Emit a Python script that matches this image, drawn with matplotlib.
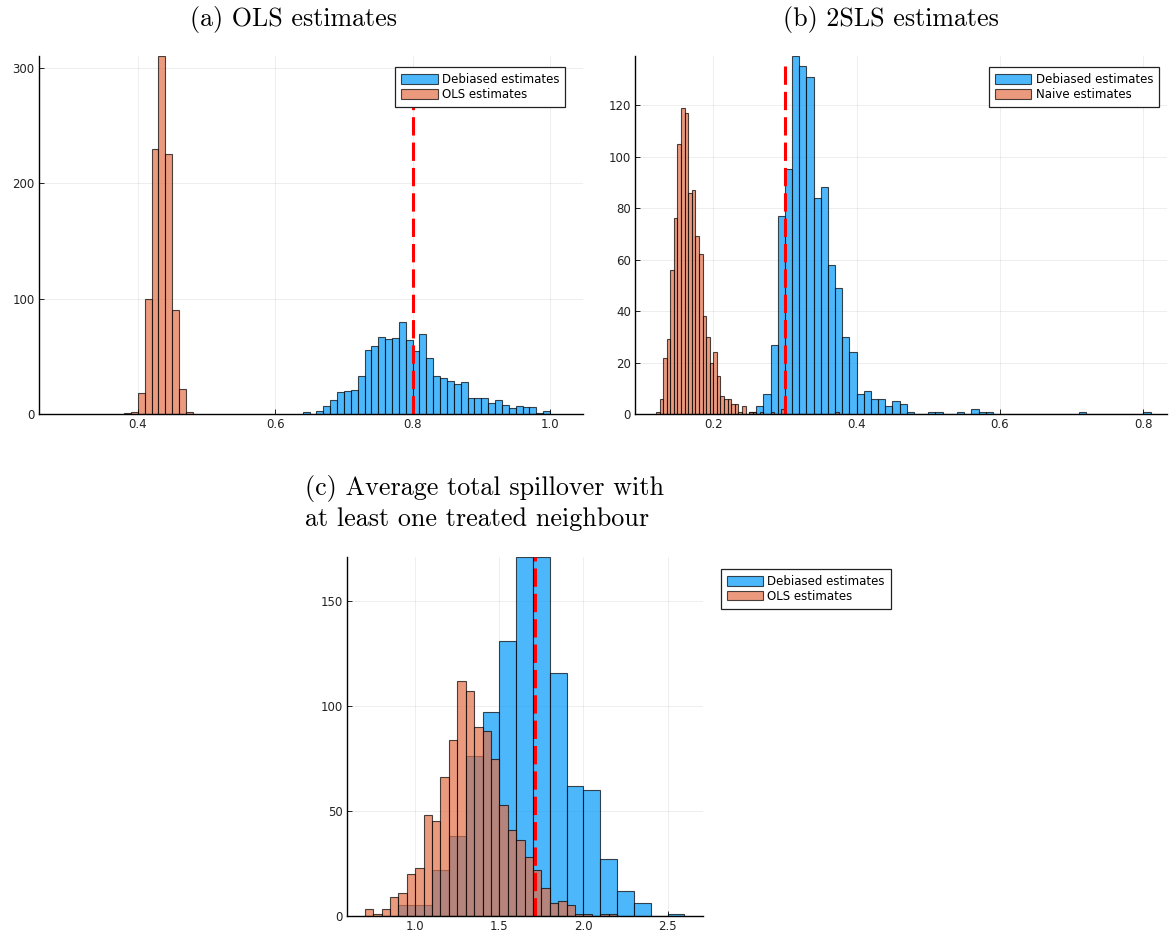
import numpy as np
import matplotlib.pyplot as plt
from matplotlib.patches import Patch

# (a) OLS estimates: bin start, bin width, counts
a_deb_start, a_deb_width = 0.64, 0.01
a_deb_counts = [2, 0, 3, 7, 12, 19, 20, 21, 33, 56, 59, 67, 65, 66, 80, 64, 55, 69,
                49, 33, 31, 29, 26, 28, 14, 14, 14, 10, 12, 8, 5, 7, 6, 6, 1, 3]
a_ols_start, a_ols_width = 0.38, 0.01
a_ols_counts = [1, 2, 18, 100, 230, 310, 225, 90, 22, 2]
a_true, a_line_top = 0.8, 300

# (b) 2SLS estimates
b_deb_start, b_deb_width = 0.25, 0.01
b_deb_counts = [1, 3, 8, 27, 77, 95, 139, 135, 131, 84, 88, 58, 49, 30, 24, 8, 9, 6,
                6, 3, 5, 4, 1, 0, 0, 1, 1, 0, 0, 1, 0, 2, 1, 1,
                0, 0, 0, 0, 0, 0, 0, 0, 0, 0, 0, 0, 1, 0, 0, 0, 0, 0, 0, 0, 0, 1]
b_naive_start, b_naive_width = 0.12, 0.005
b_naive_counts = [1, 6, 22, 29, 56, 76, 105, 119, 117, 86, 87, 69, 62, 38, 30, 20,
                  24, 15, 7, 6, 6, 4, 4, 1, 3, 0, 1, 1, 0, 1, 0, 0, 1, 0, 0, 2,
                  0, 0, 0, 0, 0, 0, 0, 0, 0, 0, 0, 0, 0, 0, 1]
b_true, b_line_top = 0.3, 135

# (c) average total spillover
c_deb_start, c_deb_width = 0.9, 0.1
c_deb_counts = [5, 5, 22, 38, 76, 97, 131, 171, 171, 116, 62, 60, 27, 12, 6, 0, 1]
c_ols_start, c_ols_width = 0.70, 0.05
c_ols_counts = [3, 1, 3, 9, 11, 20, 23, 48, 45, 66, 84, 112, 107, 90, 88, 75, 53,
                41, 36, 28, 22, 13, 6, 7, 5, 1, 1, 0, 1, 1]
c_true, c_line_top = 1.71, 171

blue = "#009AFA"
orange = "#E36F47"
edge = (0, 0, 0, 0.7)

fig = plt.figure(figsize=(11.73, 9.35), dpi=100)


def hist_bars(ax, start, width, counts, color):
    counts = np.asarray(counts)
    left = start + width * np.arange(len(counts))
    ax.bar(left, counts, width=width, align="edge", color=color, alpha=0.7,
           edgecolor=edge, linewidth=0.8)


def style_axes(ax, xlim, ylim, xticks, yticks):
    ax.set_xlim(*xlim)
    ax.set_ylim(*ylim)
    ax.set_xticks(xticks)
    ax.set_yticks(yticks)
    for s in ["top", "right"]:
        ax.spines[s].set_visible(False)
    for s in ["left", "bottom"]:
        ax.spines[s].set_linewidth(1.0)
    ax.tick_params(direction="in", length=3.5, width=0.6, labelsize=8.5,
                   labelcolor="#222222", pad=3)
    ax.grid(True, color="black", alpha=0.08, linewidth=0.6)
    ax.set_axisbelow(True)


def add_legend(ax, labels, anchor, loc):
    handles = [Patch(facecolor=blue, alpha=0.7, edgecolor=edge, linewidth=0.8),
               Patch(facecolor=orange, alpha=0.7, edgecolor=edge, linewidth=0.8)]
    leg = ax.legend(handles, labels, loc=loc, bbox_to_anchor=anchor,
                    bbox_transform=fig.transFigure, fontsize=8.5, fancybox=False,
                    framealpha=1, edgecolor="#222222", handlelength=3.1,
                    handleheight=0.9, labelspacing=0.15, borderpad=0.5,
                    handletextpad=0.35, borderaxespad=0)
    leg.get_frame().set_linewidth(0.9)
    leg.set_zorder(10)


# panel (a)
ax1 = fig.add_axes([0.0332, 0.557, 0.4638, 0.383])
hist_bars(ax1, a_deb_start, a_deb_width, a_deb_counts, blue)
hist_bars(ax1, a_ols_start, a_ols_width, a_ols_counts, orange)
ax1.plot([a_true, a_true], [0, a_line_top], color="red", linestyle="--",
         linewidth=2.2, dashes=(6, 2.3))
style_axes(ax1, (0.256, 1.048), (0, 310), [0.4, 0.6, 0.8, 1.0], [0, 100, 200, 300])
add_legend(ax1, ["Debiased estimates", "OLS estimates"], (0.4818, 0.9283), "upper right")

# panel (b)
ax2 = fig.add_axes([0.5413, 0.557, 0.4536, 0.383])
hist_bars(ax2, b_deb_start, b_deb_width, b_deb_counts, blue)
hist_bars(ax2, b_naive_start, b_naive_width, b_naive_counts, orange)
ax2.plot([b_true, b_true], [0, b_line_top], color="red", linestyle="--",
         linewidth=2.2, dashes=(6, 2.3))
style_axes(ax2, (0.0907, 0.833), (0, 139), [0.2, 0.4, 0.6, 0.8],
           [0, 20, 40, 60, 80, 100, 120])
add_legend(ax2, ["Debiased estimates", "Naive estimates"], (0.988, 0.9283), "upper right")

# panel (c)
ax3 = fig.add_axes([0.2958, 0.0206, 0.3033, 0.3834])
hist_bars(ax3, c_deb_start, c_deb_width, c_deb_counts, blue)
hist_bars(ax3, c_ols_start, c_ols_width, c_ols_counts, orange)
ax3.plot([c_true, c_true], [0, c_line_top], color="red", linestyle="--",
         linewidth=2.2, dashes=(6, 2.3))
style_axes(ax3, (0.594, 2.709), (0, 171), [1.0, 1.5, 2.0, 2.5], [0, 50, 100, 150])
add_legend(ax3, ["Debiased estimates", "OLS estimates"], (0.6144, 0.3915), "upper left")

# titles (Computer Modern)
fig.text(0.2498, 0.979, "(a) OLS estimates", family="cmr10", fontsize=18.7,
         ha="center", va="center")
fig.text(0.7596, 0.979, "(b) 2SLS estimates", family="cmr10", fontsize=18.7,
         ha="center", va="center")
fig.text(0.26, 0.4925, "(c) Average total spillover with\nat least one treated neighbour",
         family="cmr10", fontsize=18.8, ha="left", va="top", linespacing=1.3)

fig.savefig("out.png", dpi=100)
